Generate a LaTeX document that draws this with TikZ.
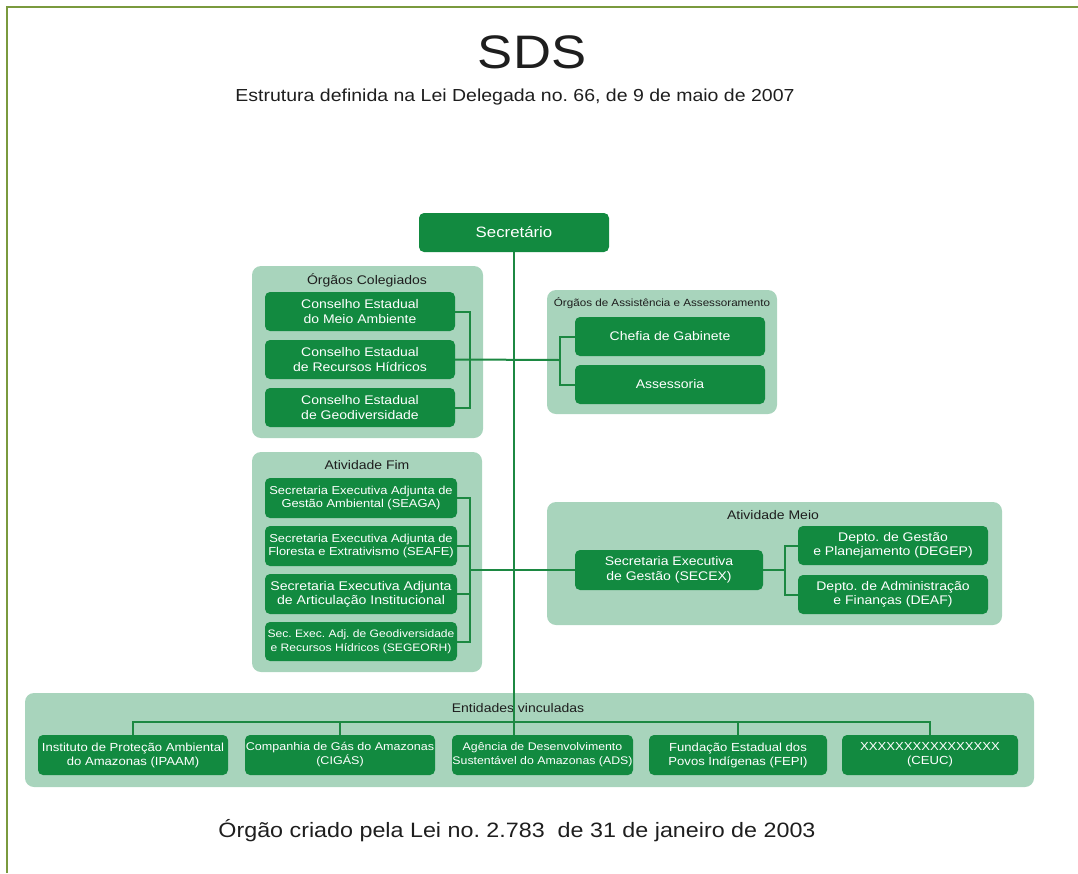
\documentclass[tikz,border=0pt]{standalone}
\usepackage{fontspec}
\setmainfont{Liberation Sans}[FakeStretch=1.12]
\frenchspacing
\definecolor{boxg}{RGB}{18,138,64}
\definecolor{panelg}{RGB}{168,212,188}
\definecolor{lineg}{RGB}{28,136,66}
\definecolor{frameg}{RGB}{122,154,62}
\definecolor{txt}{RGB}{30,30,30}
\tikzset{
  gbox/.style={fill=boxg, rounded corners=5pt, text=white, align=center, inner sep=0pt,
    font=\fontsize{12.5}{14.5}\selectfont},
  panel/.style={fill=panelg, rounded corners=9pt, inner sep=0pt},
  plabel/.style={text=txt, inner sep=0pt, font=\fontsize{12.5}{14}\selectfont},
  conn/.style={draw=lineg, line width=2pt},
  frame/.style={draw=frameg, line width=2.5pt}
}
\newcommand{\gb}[7][]{\node[gbox,#1,minimum width={#5-#3},minimum height={#6-#4}] (#2) at ({(#3+#5)/2},{(#4+#6)/2}) {#7};}
\newcommand{\pn}[5]{\node[panel,minimum width={#4-#2},minimum height={#5-#3}] (#1) at ({(#2+#4)/2},{(#3+#5)/2}) {};}
\begin{document}
\begin{tikzpicture}[x=1pt,y=-1pt]
\useasboundingbox (0,0) rectangle (1078,873);
\draw[frame] (7,873) -- (7,7) -- (1078,7);

% titles
\node[text=txt, font=\fontsize{47}{47}\selectfont] (title) at (532,52) {SDS};
\node[text=txt, font=\fontsize{17.4}{17}\selectfont] (sub) at (515,97) {Estrutura definida na Lei Delegada no. 66, de 9 de maio de 2007};
\node[text=txt, font=\fontsize{20.8}{20}\selectfont] (foot) at (517,831) {Órgão criado pela Lei no. 2.783~ de 31 de janeiro de 2003};

% panels
\pn{pcol}{252}{266}{483}{438}
\pn{pass}{547}{290}{777}{414}
\pn{pfim}{252}{452}{482}{672}
\pn{pmeio}{547}{502}{1002}{625}
\pn{pent}{25}{693}{1034}{787}

\node[plabel] (lcol) at (367,280) {Órgãos Colegiados};
\node[plabel, font=\fontsize{10.4}{12}\selectfont] (lass) at (662,303) {Órgãos de Assistência e Assessoramento};
\node[plabel] (lfim) at (367,465) {Atividade Fim};
\node[plabel] (lmeio) at (773,515) {Atividade Meio};
\node[plabel] (lent) at (518,708) {Entidades vinculadas};

% boxes
\gb[font=\fontsize{15}{17}\selectfont]{sec}{419}{213}{609}{252}{Secretário}

\gb{c1}{265}{292}{455}{331}{Conselho Estadual\\do Meio Ambiente}
\gb{c2}{265}{340}{455}{379}{Conselho Estadual\\de Recursos Hídricos}
\gb{c3}{265}{388}{455}{427}{Conselho Estadual\\de Geodiversidade}

\gb{a1}{575}{317}{765}{356}{Chefia de Gabinete}
\gb{a2}{575}{365}{765}{404}{Assessoria}

\gb[font=\fontsize{11.5}{13.5}\selectfont]{f1}{265}{478}{457}{518}{Secretaria Executiva Adjunta de\\Gestão Ambiental (SEAGA)}
\gb[font=\fontsize{11.5}{13.5}\selectfont]{f2}{265}{526}{457}{566}{Secretaria Executiva Adjunta de\\Floresta e Extrativismo (SEAFE)}
\gb[font=\fontsize{12.6}{14}\selectfont]{f3}{265}{574}{457}{614}{Secretaria Executiva Adjunta\\de Articulação Institucional}
\gb[font=\fontsize{10.8}{13.5}\selectfont]{f4}{265}{622}{457}{661}{Sec. Exec. Adj. de Geodiversidade\\e Recursos Hídricos (SEGEORH)}

\gb{secex}{575}{550}{763}{590}{Secretaria Executiva\\de Gestão (SECEX)}
\gb{d1}{798}{526}{988}{565}{Depto. de Gestão\\e Planejamento (DEGEP)}
\gb{d2}{798}{575}{988}{614}{Depto. de Administração\\e Finanças (DEAF)}

\gb[font=\fontsize{11.7}{14}\selectfont]{e1}{38}{735}{228}{775}{Instituto de Proteção Ambiental\\do Amazonas (IPAAM)}
\gb[font=\fontsize{11.2}{14}\selectfont]{e2}{245}{735}{435}{775}{Companhia de Gás do Amazonas\\(CIGÁS)}
\gb[font=\fontsize{11}{14}\selectfont]{e3}{452}{735}{633}{775}{Agência de Desenvolvimento\\Sustentável do Amazonas (ADS)}
\gb[font=\fontsize{11.7}{14}\selectfont]{e4}{649}{735}{827}{775}{Fundação Estadual dos\\Povos Indígenas (FEPI)}
\gb[font=\fontsize{11.7}{14}\selectfont]{e5}{842}{735}{1018}{775}{XXXXXXXXXXXXXXXX\\(CEUC)}

% connectors
\coordinate (ab) at (560,360);
\coordinate (db) at (785,570);
\coordinate (eb) at (514,722);
\draw[conn] (sec.south) -- (sec.south |- e3.north);
\draw[conn] (c1.east) -- ++(15,0) |- (c3.east);
\draw[conn] (c2.east) -- (ab);
\draw[conn] (a1.west) -| (ab) |- (a2.west);
\draw[conn] (f1.east) -- ++(13,0) |- (f4.east);
\draw[conn] (f2.east) -- ++(13,0);
\draw[conn] (f3.east) -- ++(13,0);
\draw[conn] (secex.west) -- ++(-105,0);
\draw[conn] (secex.east) -- (db);
\draw[conn] (d1.west) -| (db) |- (d2.west);
\draw[conn] (e1.north) |- (eb) -| (e5.north);
\draw[conn] (e2.north) -- (e2.north |- eb);
\draw[conn] (e4.north) -- (e4.north |- eb);
\end{tikzpicture}
\end{document}
